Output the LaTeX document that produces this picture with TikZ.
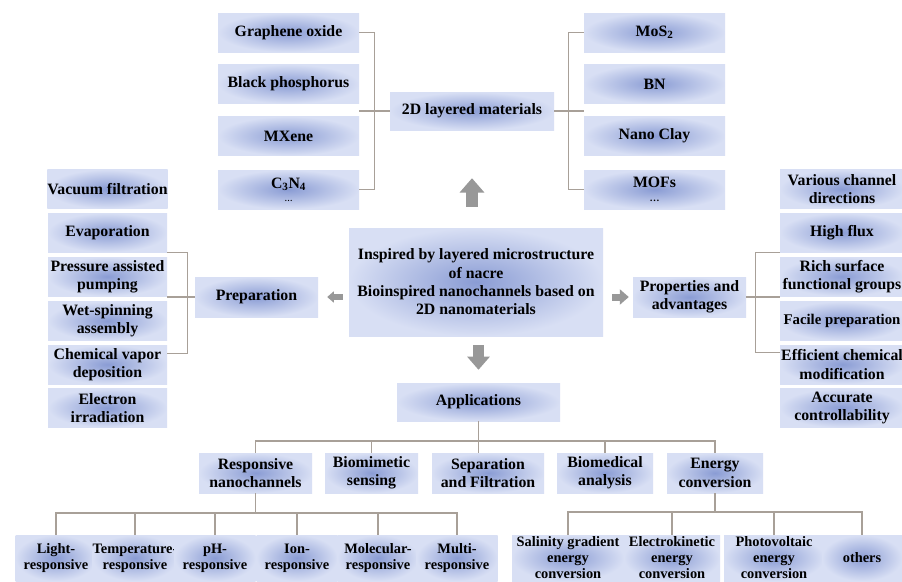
\documentclass[tikz,border=0pt]{standalone}
\usepackage{fontspec}
\setmainfont{Liberation Serif}
\usetikzlibrary{arrows.meta}
\definecolor{boxin}{RGB}{138,156,212}
\definecolor{boxout}{RGB}{216,223,244}
\definecolor{linkgray}{RGB}{168,160,152}
\definecolor{arrowgray}{RGB}{152,152,152}
\tikzset{
  box/.style={shading=radial, inner color=boxin, outer color=boxout, align=center,
    inner sep=0pt, font=\fontsize{15.8}{18.3}\selectfont\bfseries},
  leafbox/.style={box, font=\fontsize{14.4}{16}\selectfont\bfseries, minimum height=46},
  link/.style={draw=linkgray, line width=1.2pt},
  fatarrow/.style={draw=arrowgray, -{Triangle[width=#1, length=0.6*#1]}}
}
\begin{document}
\begin{tikzpicture}[x=1pt, y=-1pt]
  \useasboundingbox (0,0) rectangle (902,581);
  \clip (0,0) rectangle (902,581);
  \fill[white] (0,0) rectangle (902,581);

  \node[box, minimum width=164, minimum height=38] (mat) at (472,111) {2D layered materials};
  \node[box, minimum width=141, minimum height=39] (go) at (288.5,32.5) {Graphene oxide};
  \node[box, minimum width=141, minimum height=39] (bp) at (288.5,84) {Black phosphorus};
  \node[box, minimum width=141, minimum height=39] (mx) at (288.5,136) {MXene};
  \node[box, minimum width=141, minimum height=39] (cn) at (288.5,189.5)
    {C\textsubscript{3}N\textsubscript{4}\\[-5pt]{\fontsize{8}{8}\selectfont\dots}};
  \node[box, minimum width=141, minimum height=39] (mos) at (654.5,32.5) {MoS\textsubscript{2}};
  \node[box, minimum width=141, minimum height=39] (bn) at (654.5,84) {BN};
  \node[box, minimum width=141, minimum height=39] (clay) at (654.5,136) {Nano Clay};
  \node[box, minimum width=141, minimum height=39] (mof) at (654.5,189.5)
    {MOFs\\[-4pt]{\fontsize{10}{10}\selectfont\dots}};

  \node[box, minimum width=254, minimum height=108] (ctr) at (476,282)
    {Inspired by layered microstructure\\ of nacre\\ Bioinspired nanochannels based on\\ 2D nanomaterials};

  \node[box, minimum width=123, minimum height=40] (prep) at (256.5,297) {Preparation};
  \node[box, minimum width=119, minimum height=39] (vac) at (107.5,189) {Vacuum filtration};
  \node[box, minimum width=119, minimum height=39] (evap) at (107.5,232.5) {Evaporation};
  \node[box, minimum width=119, minimum height=39] (pump) at (107.5,276.5) {Pressure assisted\\ pumping};
  \node[box, minimum width=119, minimum height=39] (wet) at (107.5,321) {Wet-spinning\\ assembly};
  \node[box, minimum width=119, minimum height=39] (cvd) at (107.5,364.5) {Chemical vapor\\ deposition};
  \node[box, minimum width=119, minimum height=39] (elec) at (107.5,408) {Electron\\ irradiation};

  \node[box, minimum width=113, minimum height=40] (prop) at (689.5,297) {Properties and\\ advantages};
  \node[box, minimum width=124, minimum height=39] (dir) at (842,189) {Various channel\\ directions};
  \node[box, minimum width=124, minimum height=39] (high) at (842,232.5) {High flux};
  \node[box, minimum width=124, minimum height=39] (rich) at (842,276.5) {Rich surface\\ functional groups};
  \node[box, minimum width=124, minimum height=39, font=\fontsize{14.8}{18}\selectfont\bfseries]
    (fac) at (842,321) {Facile preparation};
  \node[box, minimum width=124, minimum height=39] (eff) at (842,364.5) {Efficient chemical\\ modification};
  \node[box, minimum width=124, minimum height=39] (acc) at (842,408) {Accurate\\ controllability};

  \node[box, minimum width=163, minimum height=38] (app) at (478.5,402) {Applications};
  \node[box, minimum width=113, minimum height=40] (resp) at (255.5,473) {Responsive\\ nanochannels};
  \node[box, minimum width=93, minimum height=40] (bio) at (371.5,473) {Biomimetic\\ sensing};
  \node[box, minimum width=112, minimum height=40] (sep) at (488,473) {Separation\\ and Filtration};
  \node[box, minimum width=96, minimum height=40] (med) at (605,473) {Biomedical\\ analysis};
  \node[box, minimum width=96, minimum height=40] (ener) at (715,473) {Energy\\ conversion};

  \node[leafbox, minimum width=81] (light) at (56,558) {Light-\\ responsive};
  \node[leafbox, minimum width=81] (temp) at (135,558) {Temperature-\\ responsive};
  \node[leafbox, minimum width=81] (ph) at (215,558) {pH-\\ responsive};
  \node[leafbox, minimum width=81] (ion) at (297,558) {Ion-\\ responsive};
  \node[leafbox, minimum width=81] (mol) at (378,558) {Molecular-\\ responsive};
  \node[leafbox, minimum width=81] (multi) at (457,558) {Multi-\\ responsive};
  \node[leafbox, minimum width=112] (sal) at (568,558) {Salinity gradient\\ energy\\ conversion};
  \node[leafbox, minimum width=96] (ele) at (672,558) {Electrokinetic\\ energy\\ conversion};
  \node[leafbox, minimum width=100] (pho) at (774,558) {Photovoltaic\\ energy\\ conversion};
  \node[leafbox, minimum width=80] (oth) at (862,558) {others};

  \coordinate (bus) at (477,441);
  \coordinate (rbus) at (255.5,513);
  \coordinate (ebus) at (715,512);

  \begin{scope}[link]
    \draw (go.east) -- ++(15,0) |- (cn.east);
    \draw (mat.west) -- (mat.west -| go.east);
    \draw (mos.west) -- ++(-15,0) |- (mof.west);
    \draw (mat.east) -- (mat.east -| mos.west);
    \draw (evap.south east) -- ++(20,0) |- ([yshift=-9pt]cvd.north east);
    \draw (prep.west) -- (prep.west -| pump.east);
    \draw (high.south west) -- ++(-24,0) |- ([yshift=-8pt]eff.north west);
    \draw (prop.east) -- (prop.east -| rich.west);
    \draw (app.south) -- (app.south |- sep.north);
    \draw (resp.north) |- (bus) -| (ener.north);
    \draw (bio.north) -- (bio.north |- bus);
    \draw (med.north) -- (med.north |- bus);
    \draw (resp.south) -- (rbus);
    \draw (light.north) |- (rbus) -| (multi.north);
    \foreach \n in {temp,ph,ion,mol}
      \draw (\n.north) -- (\n.north |- rbus);
    \draw (ener.south) -- (ebus);
    \draw (sal.north) |- (ebus) -| (oth.north);
    \foreach \n in {ele,pho}
      \draw (\n.north) -- (\n.north |- ebus);
  \end{scope}

  \draw[fatarrow=24pt, line width=12pt, shorten <=21pt, shorten >=48pt]
    (mat.south |- ctr.north) -- (mat.south);
  \draw[fatarrow=22pt, line width=11pt, shorten <=9pt, shorten >=13pt]
    (app.north |- ctr.south) -- (app.north);
  \draw[fatarrow=11pt, line width=6pt, shorten <=6pt, shorten >=9pt]
    (prep.east -| ctr.west) -- (prep.east);
  \draw[fatarrow=15pt, line width=7pt, shorten <=9pt, shorten >=4pt]
    (prop.west -| ctr.east) -- (prop.west);
\end{tikzpicture}
\end{document}
